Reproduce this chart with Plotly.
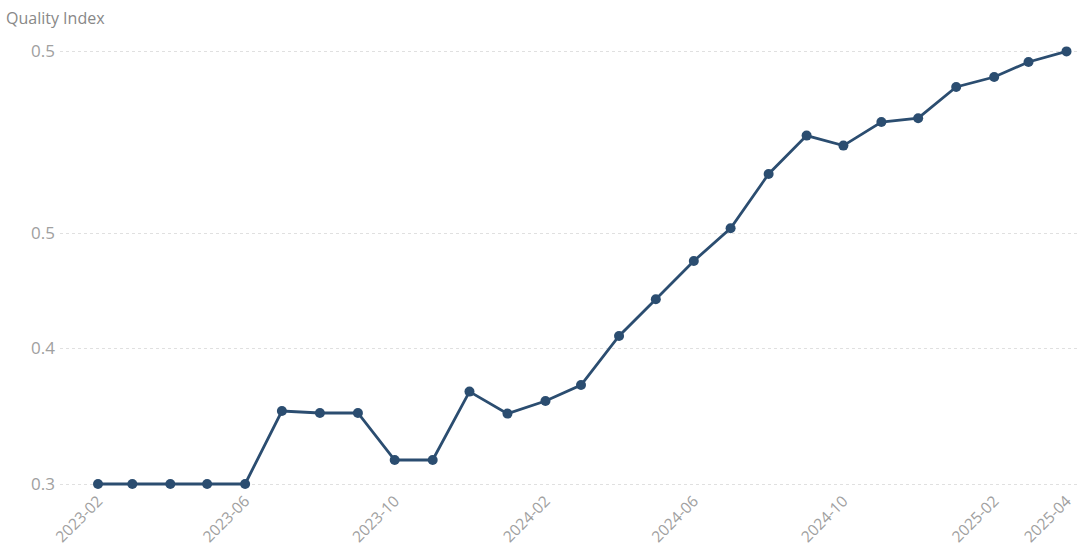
import plotly.graph_objects as go

months = ["2023-02", "2023-03", "2023-04", "2023-05", "2023-06", "2023-07", "2023-08",
          "2023-09", "2023-10", "2023-11", "2023-12", "2024-01", "2024-02", "2024-03",
          "2024-04", "2024-05", "2024-06", "2024-07", "2024-08", "2024-09", "2024-10",
          "2024-11", "2024-12", "2025-01", "2025-02", "2025-03", "2025-04"]
quality = [0.330, 0.330, 0.330, 0.330, 0.330, 0.3665, 0.3655, 0.3655, 0.342, 0.342,
           0.3762, 0.3652, 0.3715, 0.3795, 0.404, 0.4224, 0.4415, 0.4579, 0.485, 0.5042,
           0.4992, 0.511, 0.5129, 0.5285, 0.5335, 0.541, 0.5463]

x_ticks = ["2023-02", "2023-06", "2023-10", "2024-02", "2024-06", "2024-10", "2025-02", "2025-04"]
y_ticks = [0.33, 0.398, 0.45525, 0.54625]

dates = [m + "-01" for m in months]

fig = go.Figure()
fig.add_trace(go.Scatter(
    x=dates, y=quality, mode="lines+markers",
    line=dict(color="#2b4d70", width=2.8),
    marker=dict(color="#2b4d70", size=10),
    hoverinfo="x+y", showlegend=False,
))

fig.update_layout(
    width=1080, height=549,
    margin=dict(l=60, r=0, t=40, b=54),
    paper_bgcolor="white", plot_bgcolor="white",
    font=dict(family="Open Sans, sans-serif", color="#999999", size=15),
    xaxis=dict(
        type="date",
        range=["2023-01-01", "2025-04-12"],
        tickvals=[t + "-01" for t in x_ticks],
        ticktext=x_ticks,
        tickangle=-45,
        showgrid=False, zeroline=False, showline=False,
        tickfont=dict(size=15.5, color="#a0a0a0"),
        ticklabelstandoff=-7,
        automargin=False,
    ),
    yaxis=dict(
        range=[0.3245, 0.552],
        tickvals=y_ticks,
        tickformat=".1f",
        showgrid=True, gridcolor="#e0e0e0", griddash="dot", gridwidth=1,
        zeroline=False, showline=False,
        tickfont=dict(size=17, color="#a0a0a0"),
        ticklabelstandoff=4,
        automargin=False,
    ),
    annotations=[dict(
        text="Quality Index", xref="paper", yref="paper",
        x=0, xshift=-56, y=1, yshift=22, xanchor="left", yanchor="middle",
        showarrow=False, font=dict(size=16, color="#888888"),
    )],
)

fig.write_html("out.html", config={"displayModeBar": False},
               post_script="document.body.style.margin='0';")
